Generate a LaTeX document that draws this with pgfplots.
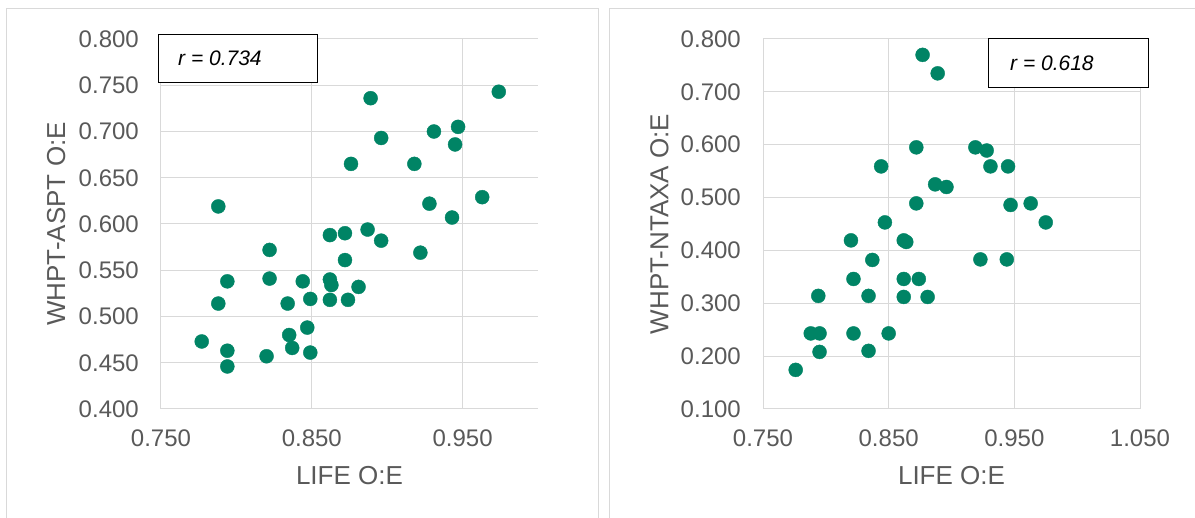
\documentclass[border=0pt]{standalone}
\usepackage{pgfplots}
\pgfplotsset{compat=1.18}
\usepackage{pgfplotstable}
\usepackage{fontspec}
\setmainfont{Liberation Sans}
\definecolor{dotgreen}{RGB}{0,132,101}
\definecolor{gridgray}{RGB}{217,217,217}
\definecolor{txtgray}{RGB}{89,89,89}

\pgfplotstableread{
x y
0.889 0.736
0.974 0.743
0.947 0.705
0.931 0.700
0.896 0.693
0.945 0.686
0.876 0.665
0.918 0.665
0.788 0.619
0.963 0.629
0.928 0.622
0.943 0.607
0.887 0.594
0.862 0.588
0.872 0.590
0.896 0.582
0.822 0.572
0.922 0.569
0.872 0.561
0.822 0.541
0.794 0.538
0.844 0.538
0.862 0.540
0.863 0.534
0.881 0.532
0.788 0.514
0.834 0.514
0.849 0.519
0.862 0.518
0.874 0.518
0.847 0.488
0.835 0.480
0.777 0.473
0.794 0.463
0.837 0.466
0.849 0.461
0.820 0.457
0.794 0.446
}\aspt

\pgfplotstableread{
x y
0.877 0.770
0.889 0.735
0.872 0.595
0.919 0.595
0.928 0.589
0.844 0.559
0.931 0.559
0.945 0.559
0.887 0.525
0.896 0.520
0.872 0.489
0.947 0.486
0.963 0.489
0.847 0.453
0.975 0.453
0.820 0.419
0.862 0.419
0.864 0.416
0.837 0.382
0.923 0.383
0.944 0.383
0.822 0.346
0.862 0.346
0.874 0.346
0.794 0.314
0.834 0.314
0.862 0.312
0.881 0.312
0.788 0.243
0.795 0.243
0.822 0.243
0.850 0.243
0.795 0.208
0.834 0.210
0.776 0.174
}\ntaxa

\pgfplotsset{
  panel/.style={
    scale only axis, width=377pt, height=370pt,
    anchor=south west,
    axis x line*=bottom, axis y line*=left,
    axis line style={draw=gridgray, line width=1pt, -},
    xmajorgrids, ymajorgrids,
    grid style={draw=gridgray, line width=1pt},
    major tick length=0pt,
    tick style={draw=none},
    ticklabel style={font=\fontsize{24}{28}\selectfont, text=txtgray, inner sep=0pt},
    xticklabel style={anchor=base, yshift=-37.5pt},
    yticklabel style={anchor=east, xshift=-22pt},
    label style={font=\fontsize{26}{30}\selectfont, text=txtgray, inner sep=0pt},
    xlabel style={at={(axis description cs:0.5,-0.2041)}, anchor=base},
    clip=false,
  },
  dots/.style={only marks, mark=*, mark size=7pt, mark options={fill=dotgreen, draw=dotgreen}},
}

\begin{document}
\begin{tikzpicture}
\useasboundingbox (0,0) rectangle (1195pt,518pt);
\draw[gridgray, line width=1pt] (6pt,-5pt) |- (598pt,509pt) -- (598pt,-5pt);
\draw[gridgray, line width=1pt] (609.5pt,-5pt) |- (1200pt,509pt);

\begin{axis}[panel, at={(161pt,109pt)},
  xmin=0.75, xmax=1.0, ymin=0.4, ymax=0.8,
  xtick={0.75,0.85,0.95}, xticklabels={0.750,0.850,0.950},
  ytick={0.4,0.45,0.5,0.55,0.6,0.65,0.7,0.75,0.8},
  yticklabels={0.400,0.450,0.500,0.550,0.600,0.650,0.700,0.750,0.800},
  xlabel={LIFE O:E}, ylabel={WHPT-ASPT O:E},
  ylabel style={at={(axis description cs:-0.2546,0.5)}, anchor=base, rotate=0},
]
\addplot[dots] table[x=x,y=y] {\aspt};
\end{axis}

\begin{axis}[panel, at={(763pt,109pt)},
  xmin=0.75, xmax=1.05, ymin=0.1, ymax=0.8,
  xtick={0.75,0.85,0.95,1.05}, xticklabels={0.750,0.850,0.950,1.050},
  ytick={0.1,0.2,0.3,0.4,0.5,0.6,0.7,0.8},
  yticklabels={0.100,0.200,0.300,0.400,0.500,0.600,0.700,0.800},
  xlabel={LIFE O:E}, ylabel={WHPT-NTAXA O:E},
  ylabel style={at={(axis description cs:-0.2507,0.5)}, anchor=base, rotate=0},
]
\addplot[dots] table[x=x,y=y] {\ntaxa};
\end{axis}

\draw[black, line width=1pt, fill=white] (158pt,435pt) rectangle (317pt,483pt);
\node[anchor=base west, inner sep=0pt, font=\fontsize{21}{25}\selectfont\itshape] at (178pt,452.5pt) {r = 0.734};
\draw[black, line width=1pt, fill=white] (988.6pt,430pt) rectangle (1148.7pt,479pt);
\node[anchor=base west, inner sep=0pt, font=\fontsize{21}{25}\selectfont\itshape] at (1010pt,447.5pt) {r = 0.618};
\end{tikzpicture}
\end{document}
